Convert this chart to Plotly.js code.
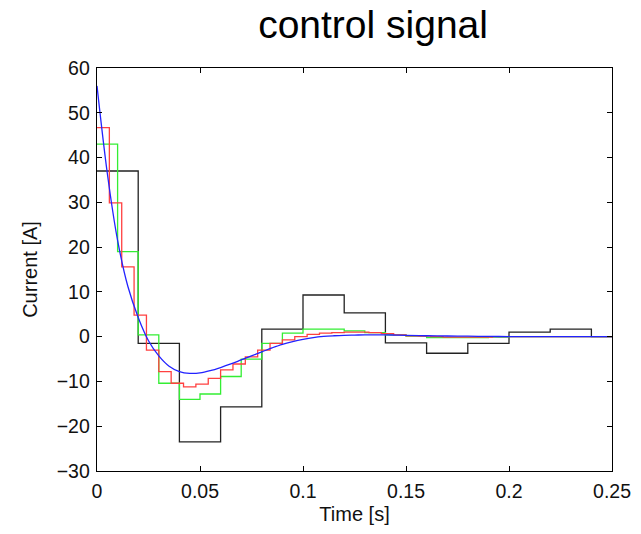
<!DOCTYPE html>
<html>
<head>
<meta charset="utf-8">
<script src="https://cdn.plot.ly/plotly-3.0.1.min.js"></script>
<style>html,body{margin:0;padding:0;background:#fff;}#chart{width:641px;height:534px;}</style>
</head>
<body>
<div id="chart"></div>
<script>
// Black: sample time 0.02 s
const blackT = [0, 0.02, 0.04, 0.06, 0.08, 0.10, 0.12, 0.14, 0.16, 0.18, 0.20, 0.22, 0.24, 0.25];
const blackY = [37, -1.5, -23.5, -15.7, 1.7, 9.3, 5.3, -1.4, -3.7, -1.5, 1.0, 1.7, 0, 0];

// Green: sample time 0.01 s
const greenT = [0, 0.01, 0.02, 0.03, 0.04, 0.05, 0.06, 0.07, 0.08, 0.09, 0.10, 0.11, 0.12,
                0.13, 0.14, 0.15, 0.16, 0.17, 0.18, 0.19, 0.20, 0.21, 0.22, 0.23, 0.24, 0.25];
const greenY = [43, 19, 0.4, -10.4, -14.0, -12.8, -8.9, -5.0, -1.5, 0.8, 1.7, 1.7, 1.3,
                0.9, 0.4, 0.1, -0.2, -0.2, -0.2, -0.1, 0, 0, 0, 0, 0, 0];

// Red: sample time 0.006 s
const redT = [0, 0.006, 0.012, 0.018, 0.024, 0.030, 0.036, 0.042, 0.048, 0.054, 0.060, 0.066,
              0.072, 0.078, 0.084, 0.090, 0.096, 0.102, 0.108, 0.114, 0.120, 0.126, 0.132,
              0.138, 0.144, 0.150, 0.156, 0.162, 0.168, 0.174, 0.180, 0.186, 0.192, 0.198,
              0.204, 0.210, 0.216, 0.222, 0.228, 0.234, 0.240, 0.246, 0.25];
const redY = [46.7, 29.9, 15.6, 4.8, -3.0, -7.8, -10.4, -11.2, -10.6, -9.3, -7.4, -6.1,
              -4.5, -3.0, -1.5, -0.7, 0, 0.5, 0.8, 0.9, 1.0, 1.0, 0.9,
              0.7, 0.4, 0.2, 0.1, 0, -0.1, -0.1, -0.1, -0.1, 0, 0,
              0, 0, 0, 0, 0, 0, 0, 0, 0];

// Blue: continuous signal
const blueT = [0, 0.005, 0.01, 0.015, 0.02, 0.025, 0.03, 0.035, 0.04, 0.045, 0.05, 0.055,
               0.06, 0.065, 0.07, 0.075, 0.08, 0.085, 0.09, 0.095, 0.10, 0.105, 0.11, 0.115,
               0.12, 0.125, 0.13, 0.135, 0.14, 0.145, 0.15, 0.16, 0.17, 0.18, 0.19, 0.20,
               0.21, 0.22, 0.23, 0.24, 0.25];
const blueY = [56, 36.5, 21.5, 11.2, 4.3, -0.9, -4.3, -6.6, -7.8, -8.2, -8.1, -7.6,
               -6.9, -6.1, -5.2, -4.3, -3.4, -2.5, -1.7, -1.1, -0.6, -0.2, 0.05, 0.2,
               0.3, 0.35, 0.4, 0.4, 0.4, 0.35, 0.3, 0.2, 0.15, 0.1, 0.05, 0.03,
               0.02, 0.01, 0, 0, 0];

const xTicks = [0, 0.05, 0.1, 0.15, 0.2, 0.25];
const xTickText = ['0', '0.05', '0.1', '0.15', '0.2', '0.25'];
const yTicks = [-30, -20, -10, 0, 10, 20, 30, 40, 50, 60];

const traces = [
  {x: blackT, y: blackY, mode: 'lines', line: {shape: 'hv', color: '#222222', width: 1.3}, name: 'T=0.02'},
  {x: greenT, y: greenY, mode: 'lines', line: {shape: 'hv', color: '#33ee33', width: 1.3}, name: 'T=0.01'},
  {x: redT, y: redY, mode: 'lines', line: {shape: 'hv', color: '#ff4040', width: 1.3}, name: 'T=0.006'},
  {x: blueT, y: blueY, mode: 'lines', line: {shape: 'spline', color: '#2222ff', width: 1.3}, name: 'continuous'}
];

const fontFam = 'Liberation Sans, Arial, sans-serif';
const layout = {
  width: 641, height: 534,
  margin: {l: 97, r: 29, t: 68, b: 63, pad: 0},
  paper_bgcolor: '#ffffff', plot_bgcolor: '#ffffff',
  showlegend: false,
  font: {family: fontFam, color: '#111111', size: 19},
  title: {text: 'control signal', font: {family: fontFam, size: 39, color: '#000000'},
          x: 0.582, xref: 'container', xanchor: 'center', y: 0.955, yref: 'container', yanchor: 'middle'},
  xaxis: {
    range: [0, 0.25], tickvals: xTicks, ticktext: xTickText,
    ticks: 'inside', ticklen: 5, tickwidth: 1, tickcolor: '#000',
    showline: true, linecolor: '#000', linewidth: 1.3, mirror: 'ticks',
    showgrid: false, zeroline: false, ticklabelstandoff: 2,
    tickfont: {size: 19.5, family: fontFam},
    title: {text: 'Time [s]', font: {size: 20, family: fontFam}, standoff: 6}
  },
  yaxis: {
    range: [-30, 60], tickvals: yTicks,
    ticks: 'inside', ticklen: 5, tickwidth: 1, tickcolor: '#000',
    showline: true, linecolor: '#000', linewidth: 1.3, mirror: 'ticks',
    showgrid: false, zeroline: false, ticklabelstandoff: 2,
    tickfont: {size: 19.5, family: fontFam},
    title: {text: 'Current [A]', font: {size: 20, family: fontFam}, standoff: 13}
  }
};

Plotly.newPlot('chart', traces, layout, {staticPlot: true, displayModeBar: false});
</script>
</body>
</html>
